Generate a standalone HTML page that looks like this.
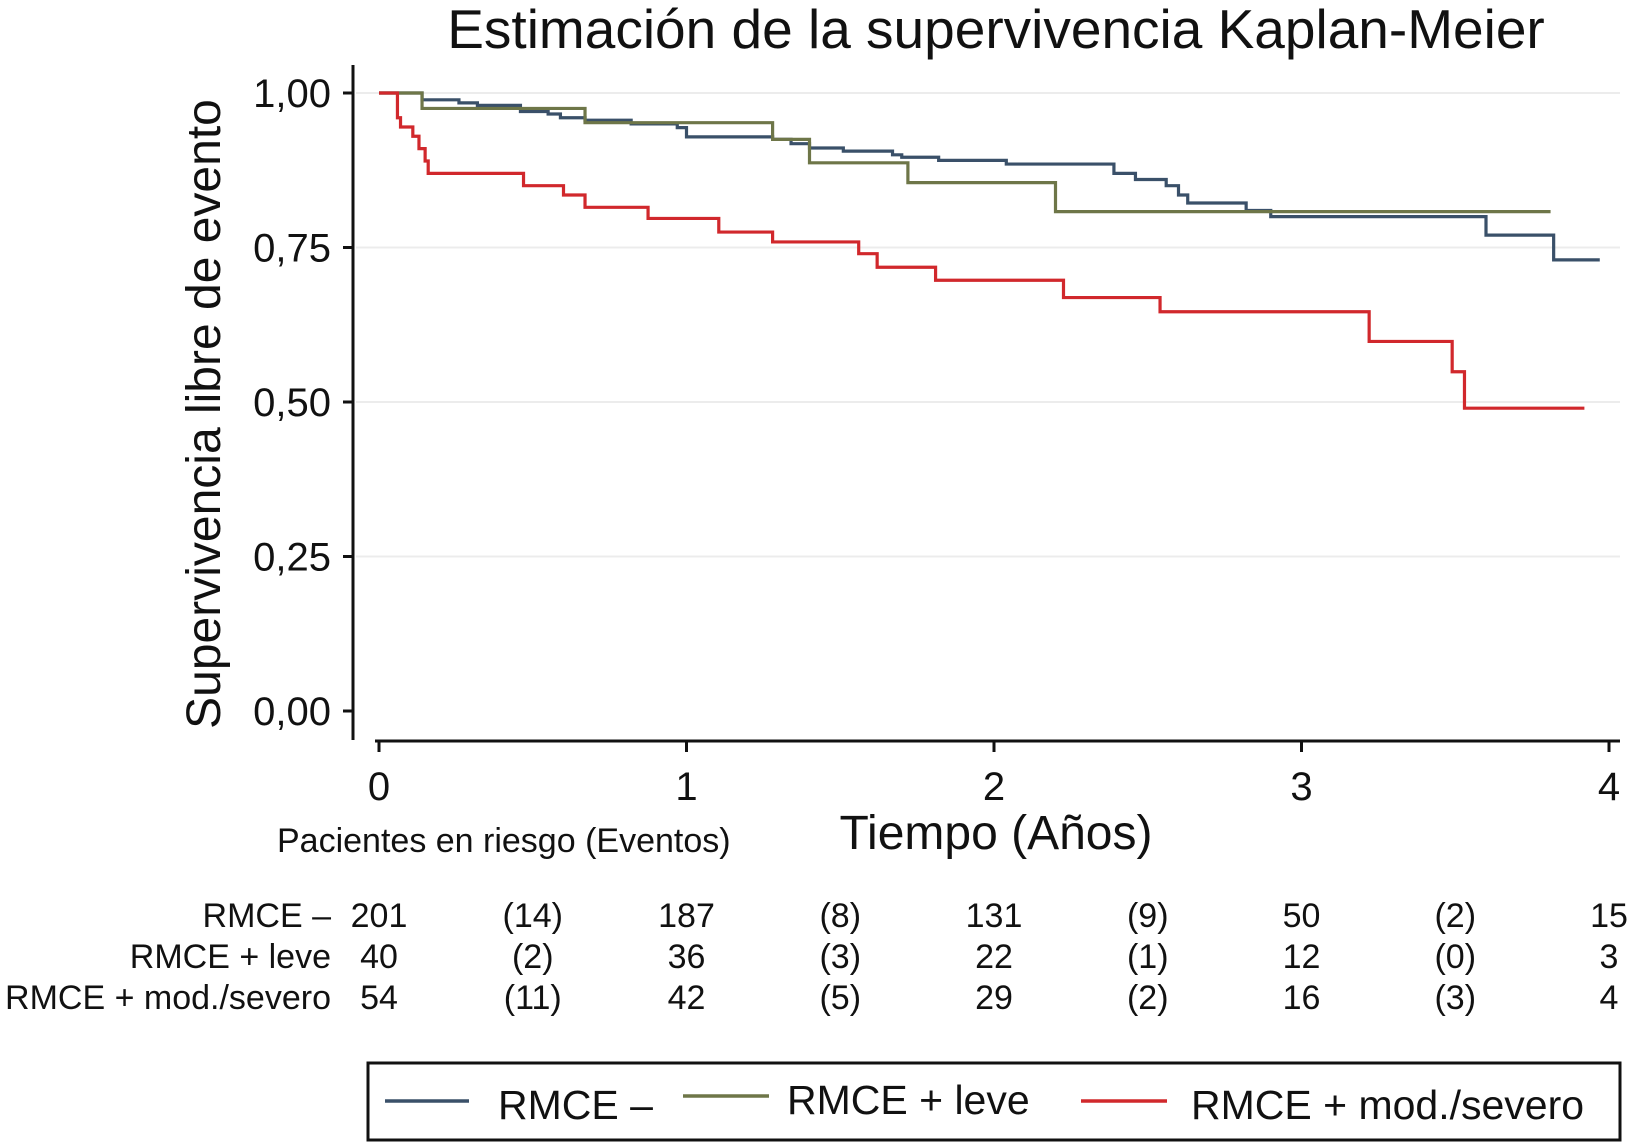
<!DOCTYPE html>
<html><head><meta charset="utf-8"><style>
html,body{margin:0;padding:0;background:#fff}
svg{display:block}
text{font-family:"Liberation Sans",Arial,sans-serif;fill:#111}
</style></head><body>
<svg id="chart" width="1641" height="1145" viewBox="0 0 1641 1145">
<text x="996" y="48" font-size="55" text-anchor="middle">Estimación de la supervivencia Kaplan-Meier</text>
<g id="grid"></g>
<g id="yaxis"></g>
<g id="xaxis"></g>
<g id="curves"></g>
<text transform="translate(220,414) rotate(-90)" font-size="48" text-anchor="middle">Supervivencia libre de evento</text>
<text x="996" y="849" font-size="48" text-anchor="middle">Tiempo (Años)</text>
<text x="277" y="852" font-size="34">Pacientes en riesgo (Eventos)</text>
<g id="risk"></g>
<g>
<rect x="368" y="1063" width="1252" height="77" fill="none" stroke="#111" stroke-width="3"/>
<g><line x1="385" y1="1101" x2="469" y2="1101" stroke="#3a5069" stroke-width="3.5"/><text x="498" y="1119" font-size="41">RMCE –</text></g>
<g><line x1="683" y1="1096" x2="769" y2="1096" stroke="#6e7648" stroke-width="3.5"/><text x="787" y="1114" font-size="41">RMCE + leve</text></g>
<g><line x1="1081" y1="1101" x2="1167" y2="1101" stroke="#d1282c" stroke-width="3.5"/><text x="1191" y="1119" font-size="41">RMCE + mod./severo</text></g>
</g>
</svg>
<script>
const yTicks = [1.00, 0.75, 0.50, 0.25, 0.00];
const yTickLabels = ["1,00", "0,75", "0,50", "0,25", "0,00"];
const xTicks = [0, 1, 2, 3, 4];
const blueT = [0, 0.14, 0.26, 0.32, 0.46, 0.55, 0.59, 0.67, 0.82, 0.97, 1.0, 1.28, 1.34, 1.40, 1.51, 1.67, 1.70, 1.82, 2.04, 2.39, 2.46, 2.56, 2.60, 2.63, 2.82, 2.90, 3.60, 3.82, 3.97];
const blueS = [1, 0.989, 0.984, 0.98, 0.97, 0.966, 0.96, 0.956, 0.95, 0.944, 0.929, 0.925, 0.918, 0.911, 0.906, 0.90, 0.896, 0.891, 0.885, 0.87, 0.86, 0.85, 0.835, 0.822, 0.81, 0.80, 0.77, 0.73, 0.73];
const greenT = [0, 0.14, 0.67, 1.28, 1.40, 1.72, 2.20, 3.81];
const greenS = [1, 0.975, 0.952, 0.925, 0.887, 0.855, 0.808, 0.808];
const redT = [0, 0.06, 0.07, 0.11, 0.13, 0.15, 0.16, 0.47, 0.60, 0.67, 0.875, 1.105, 1.28, 1.56, 1.62, 1.81, 2.226, 2.54, 3.22, 3.49, 3.53, 3.92];
const redS = [1, 0.96, 0.945, 0.93, 0.91, 0.89, 0.87, 0.85, 0.835, 0.815, 0.797, 0.775, 0.759, 0.74, 0.718, 0.697, 0.669, 0.646, 0.598, 0.549, 0.49, 0.49];
const riskRows = ["RMCE –","RMCE + leve","RMCE + mod./severo"];
const riskNeg = ["201","(14)","187","(8)","131","(9)","50","(2)","15"];
const riskLeve = ["40","(2)","36","(3)","22","(1)","12","(0)","3"];
const riskSev = ["54","(11)","42","(5)","29","(2)","16","(3)","4"];

const NS = "http://www.w3.org/2000/svg";
const X = t => 379 + t * 307.5;
const Y = s => 711 - s * 618;
function mk(tag, attrs, parent){const e=document.createElementNS(NS,tag);for(const k in attrs)e.setAttribute(k,attrs[k]);parent.appendChild(e);return e;}

const grid = document.getElementById('grid'), ya = document.getElementById('yaxis'), xa = document.getElementById('xaxis');
yTicks.forEach((v,i)=>{
  if(v>0){const g=mk('line',{x1:356,x2:1620,y1:Y(v),y2:Y(v),stroke:'#ececec','stroke-width':2},grid);
  
  }
  const tk=mk('line',{x1:343,x2:353,y1:Y(v),y2:Y(v),stroke:'#111','stroke-width':3},ya);
  
  
  const tl=mk('text',{x:331,y:Y(v)+14,'font-size':40,'text-anchor':'end'},ya);
  tl.textContent=yTickLabels[i];
  
  
});
const yl=mk('line',{x1:353,x2:353,y1:65,y2:740,stroke:'#111','stroke-width':3},ya);


const xl=mk('line',{x1:375,x2:1620,y1:741,y2:741,stroke:'#111','stroke-width':3},xa);


xTicks.forEach(v=>{
  const tk=mk('line',{x1:X(v),x2:X(v),y1:741,y2:752,stroke:'#111','stroke-width':3},xa);
  
  
  const tl=mk('text',{x:X(v),y:800,'font-size':40,'text-anchor':'middle'},xa);
  tl.textContent=String(v);
  
  
});

function stepPath(T,S){let d=`M${X(T[0])},${Y(S[0])}`;for(let i=1;i<T.length;i++){d+=` H${X(T[i])} V${Y(S[i])}`;}return d;}
const cv=document.getElementById('curves');
const c1=mk('path',{d:stepPath(blueT,blueS),fill:'none',stroke:'#3a5069','stroke-width':3.2},cv);


const c2=mk('path',{d:stepPath(greenT,greenS),fill:'none',stroke:'#6e7648','stroke-width':3.2},cv);


const c3=mk('path',{d:stepPath(redT,redS),fill:'none',stroke:'#d1282c','stroke-width':3.2},cv);



const rk=document.getElementById('risk');
const rowY=[927,968,1009];
[riskNeg,riskLeve,riskSev].forEach((row,r)=>{
  const lb=mk('text',{x:331,y:rowY[r],'font-size':34,'text-anchor':'end'},rk);
  lb.textContent=riskRows[r];
  
  
  row.forEach((v,i)=>{
    const t=mk('text',{x:X(i*0.5),y:rowY[r],'font-size':34,'text-anchor':'middle'},rk);
    t.textContent=v;
    
    
  });
});
</script>
</body></html>
